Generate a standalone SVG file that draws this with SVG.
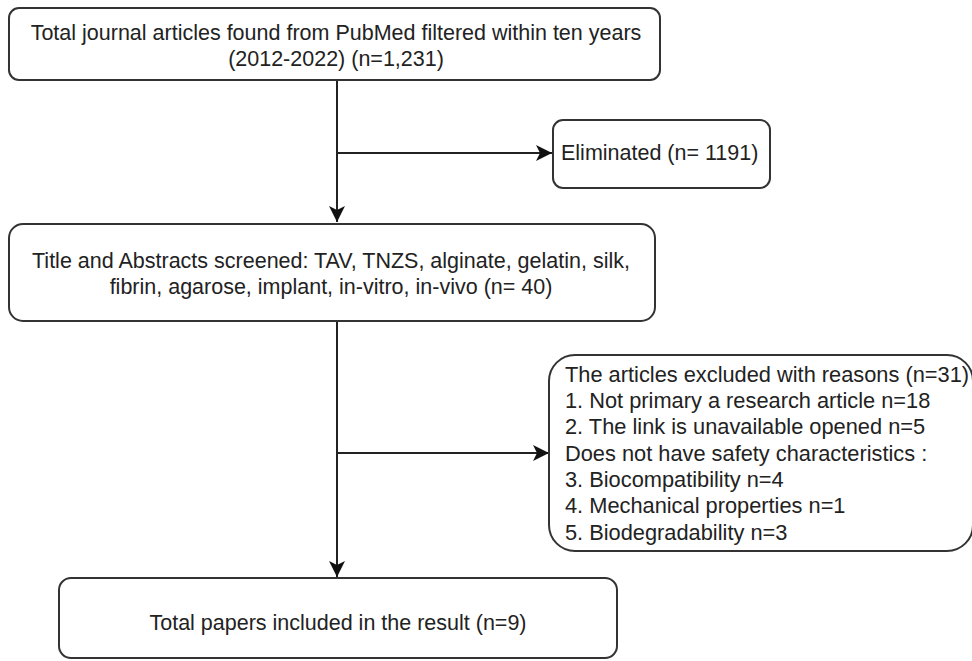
<svg xmlns="http://www.w3.org/2000/svg" width="972" height="661" viewBox="0 0 972 661">
<defs>
<style>
.box{fill:#fff;stroke:#333;stroke-width:2}
.t{font-family:"Liberation Sans",Arial,sans-serif;font-size:21.5px;fill:#222}
.r{font-size:21.8px}
.c{text-anchor:middle}
.ln{stroke:#222;stroke-width:2;fill:none}
</style>
<marker id="ah2" markerWidth="18" markerHeight="18" refX="16" refY="9" orient="auto" markerUnits="userSpaceOnUse">
<path d="M0,1 L16,9 L0,17 L4,9 Z" fill="#111"/>
</marker>
</defs>
<rect width="972" height="661" fill="#fff"/>
<g id="connectors">
<line class="ln" x1="337" y1="81" x2="337" y2="222" marker-end="url(#ah2)"/>
<line class="ln" x1="337" y1="153" x2="552" y2="153" marker-end="url(#ah2)"/>
<line class="ln" x1="337" y1="321" x2="337" y2="577" marker-end="url(#ah2)"/>
<line class="ln" x1="337" y1="453" x2="549" y2="453" marker-end="url(#ah2)"/>
</g>
<g id="n1">
<rect class="box" x="9" y="8" width="651" height="72" rx="10"/>
<text class="t c" x="336" y="40">Total journal articles found from PubMed filtered within ten years</text>
<text class="t c" x="336" y="66">(2012-2022) (n=1,231)</text>
</g>
<g id="n2">
<rect class="box" x="553" y="120" width="217" height="68" rx="10"/>
<text class="t" x="561" y="160">Eliminated (n= 1191)</text>
</g>
<g id="n3">
<rect class="box" x="9" y="224" width="646" height="97" rx="14"/>
<text class="t c" x="331" y="268">Title and Abstracts screened: TAV, TNZS, alginate, gelatin, silk,</text>
<text class="t c" x="331" y="294">fibrin, agarose, implant, in-vitro, in-vivo (n= 40)</text>
</g>
<g id="n4">
<rect class="box" x="549" y="355" width="424" height="196" rx="26"/>
<text class="t r" x="565" y="382">The articles excluded with reasons (n=31)</text>
<text class="t r" x="565" y="408">1. Not primary a research article n=18</text>
<text class="t r" x="565" y="434">2. The link is unavailable opened n=5</text>
<text class="t r" x="565" y="461">Does not have safety characteristics :</text>
<text class="t r" x="565" y="487">3. Biocompatibility n=4</text>
<text class="t r" x="565" y="513">4. Mechanical properties n=1</text>
<text class="t r" x="565" y="540">5. Biodegradability n=3</text>
</g>
<g id="n5">
<rect class="box" x="59" y="578" width="558" height="80" rx="12"/>
<text class="t c" x="338" y="630">Total papers included in the result (n=9)</text>
</g>
</svg>
